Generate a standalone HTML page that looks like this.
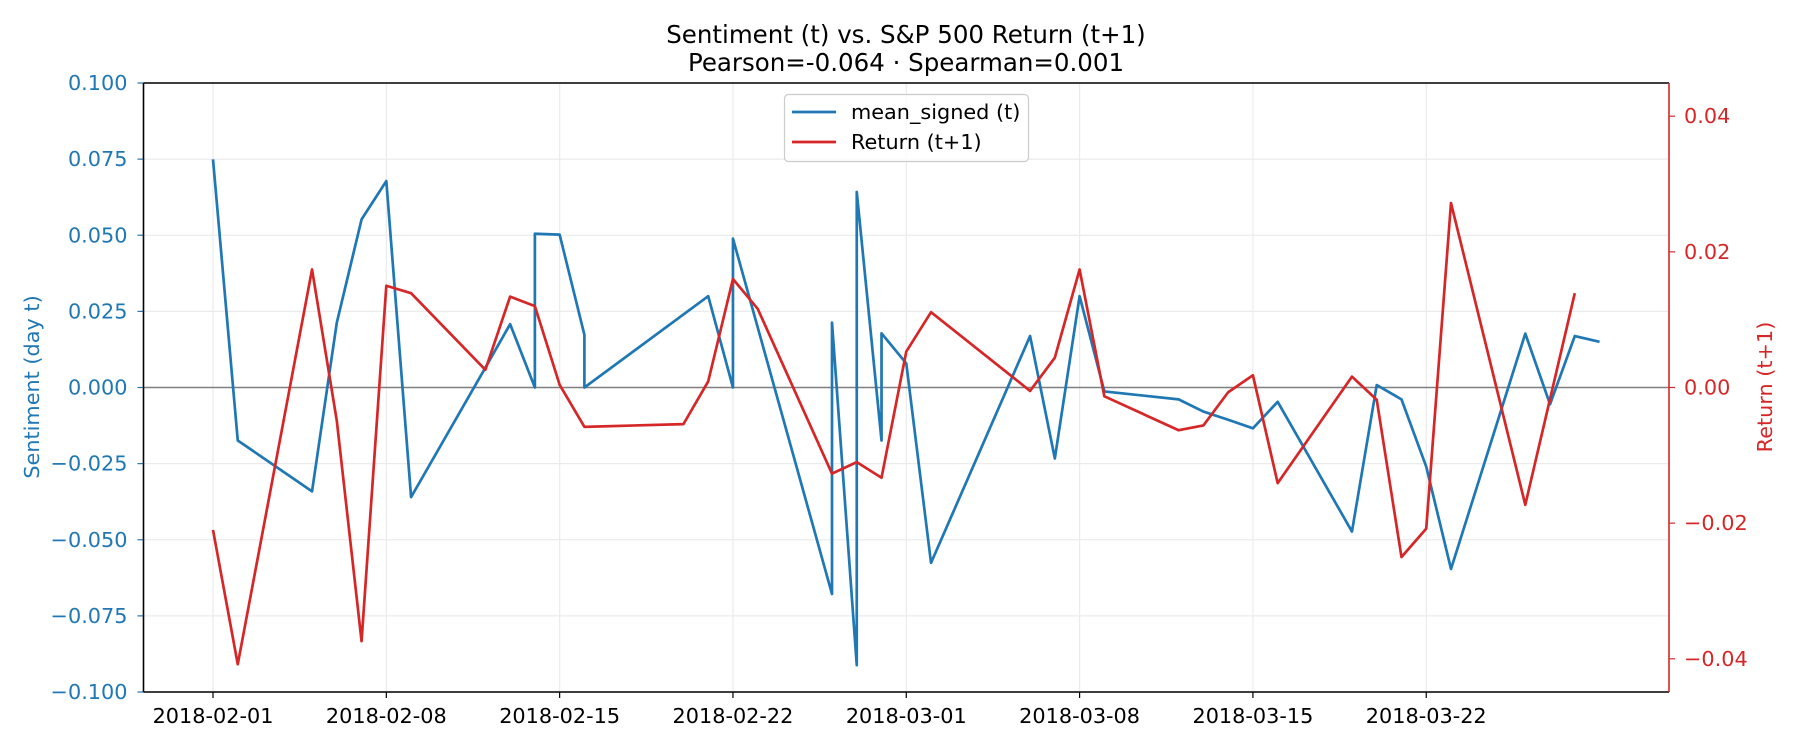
<!DOCTYPE html>
<html><head><meta charset="utf-8"><style>
body{margin:0;background:#fff;}
svg{display:block;font-family:"DejaVu Sans","Liberation Sans",sans-serif;}
</style></head><body>
<svg id="chart" width="1800" height="750" xmlns="http://www.w3.org/2000/svg">
<text x="906" y="43" font-size="24.5" text-anchor="middle">Sentiment (t) vs. S&amp;P 500 Return (t+1)</text>
<text x="906" y="71" font-size="24.5" text-anchor="middle">Pearson=-0.064 · Spearman=0.001</text>
<g id="grid"></g><g id="series"></g><g id="axes"></g>
<text transform="translate(39,387) rotate(-90)" font-size="20.8" fill="#1f77b4" text-anchor="middle">Sentiment (day t)</text>
<text transform="translate(1772,387) rotate(-90)" font-size="20.8" fill="#d62728" text-anchor="middle">Return (t+1)</text>
<g>
<rect x="784.5" y="94.5" width="244" height="67" rx="4" fill="#fff" fill-opacity="0.8" stroke="#cccccc" stroke-width="1.2"/>
<line x1="792" y1="112" x2="836" y2="112" stroke="#1f77b4" stroke-width="2.7"/>
<text x="851" y="119" font-size="20.8">mean_signed (t)</text>
<line x1="792" y1="142" x2="836" y2="142" stroke="#d62728" stroke-width="2.7"/>
<text x="851" y="149" font-size="20.8">Return (t+1)</text>
</g>
</svg>
<script>
// days since 2018-02-01
const sentDays = [0,1,4,5,6,7,8,11,12,13,13,14,15,15,20,21,21,25,25,26,26,27,27,28,29,33,34,35,36,39,40,41,42,43,46,47,48,49,50,53,54,55,56];
const sentVals = [0.0749,-0.0174,-0.0341,0.0213,0.0552,0.0678,-0.036,0.0065,0.0208,0,0.0505,0.0502,0.0173,0,0.030,0,0.0489,-0.0678,0.0213,-0.0912,0.0642,-0.0174,0.0178,0.0079,-0.0576,0.0169,-0.0233,0.030,-0.0013,-0.0039,-0.0079,-0.0106,-0.0134,-0.0047,-0.0473,0.0008,-0.0039,-0.026,-0.0596,0.0177,-0.0055,0.0169,0.015];
const retDays = [0,1,4,5,6,7,8,11,12,13,14,15,19,20,21,22,25,26,27,28,29,33,34,35,36,39,40,41,42,43,46,47,48,49,50,53,55];
const retVals = [-0.021,-0.0408,0.0174,-0.0049,-0.0374,0.015,0.0139,0.0026,0.0134,0.012,0.0004,-0.0058,-0.0054,0.0009,0.016,0.0116,-0.0127,-0.011,-0.0133,0.0053,0.0111,-0.0005,0.0044,0.0174,-0.0013,-0.0063,-0.0056,-0.0007,0.0018,-0.0141,0.0016,-0.0018,-0.025,-0.0208,0.0272,-0.0173,0.0139];
const xTickDays = [0,7,14,21,28,35,42,49];
const xTickLabels = ["2018-02-01","2018-02-08","2018-02-15","2018-02-22","2018-03-01","2018-03-08","2018-03-15","2018-03-22"];
const leftTicks = [0.1,0.075,0.05,0.025,0,-0.025,-0.05,-0.075,-0.1];
const leftTickLabels = ["0.100","0.075","0.050","0.025","0.000","\u22120.025","\u22120.050","\u22120.075","\u22120.100"];
const rightTicks = [0.04,0.02,0,-0.02,-0.04];
const rightTickLabels = ["0.04","0.02","0.00","\u22120.02","\u22120.04"];

const L=143.5,R=1669,T=83,B=692;
const x=d=>213+24.76*d;
const yL=v=>387.5-v*(B-T)/0.2;
const yR=v=>387.5-v*271.3/0.04;
const NS="http://www.w3.org/2000/svg";
function mk(tag,attrs,parent){const e=document.createElementNS(NS,tag);for(const k in attrs)e.setAttribute(k,attrs[k]);parent.appendChild(e);return e;}
const grid=document.getElementById('grid'),ser=document.getElementById('series'),ax=document.getElementById('axes');
xTickDays.forEach((d,i)=>{
  const g=mk('line',{x1:x(d),x2:x(d),y1:T,y2:B,stroke:'#ebebeb','stroke-width':1.2},grid);
  
  
  mk('line',{x1:x(d),x2:x(d),y1:B,y2:B+6,stroke:'#000','stroke-width':1.2},ax);
  const t=mk('text',{x:x(d),y:723,'font-size':20.8,'text-anchor':'middle'},ax);
  t.textContent=xTickLabels[i];
  
  
});
leftTicks.forEach((v,i)=>{
  const g=mk('line',{x1:L,x2:R,y1:yL(v),y2:yL(v),stroke:'#ebebeb','stroke-width':1.2},grid);
  
  
  mk('line',{x1:L-6,x2:L,y1:yL(v),y2:yL(v),stroke:'#1f77b4','stroke-width':1.2},ax);
  const t=mk('text',{x:L-16,y:yL(v)+7,'font-size':20.8,'text-anchor':'end',fill:'#1f77b4'},ax);
  t.textContent=leftTickLabels[i];
  
  
});
rightTicks.forEach((v,i)=>{
  mk('line',{x1:R,x2:R+6,y1:yR(v),y2:yR(v),stroke:'#d62728','stroke-width':1.2},ax);
  const t=mk('text',{x:R+15,y:yR(v)+7,'font-size':20.8,fill:'#d62728'},ax);
  t.textContent=rightTickLabels[i];
  
  
});
const zl=mk('line',{x1:L,x2:R,y1:yL(0),y2:yL(0),stroke:'#808080','stroke-width':1.6},ser);


const p1=mk('polyline',{points:sentDays.map((d,i)=>x(d)+','+yL(sentVals[i])).join(' '),fill:'none',stroke:'#1f77b4','stroke-width':2.7,'stroke-linejoin':'round'},ser);


const p2=mk('polyline',{points:retDays.map((d,i)=>x(d)+','+yR(retVals[i])).join(' '),fill:'none',stroke:'#d62728','stroke-width':2.7,'stroke-linejoin':'round'},ser);


mk('line',{x1:L,x2:R,y1:T,y2:T,stroke:'#000','stroke-width':1.6},ax);
mk('line',{x1:L,x2:R,y1:B,y2:B,stroke:'#000','stroke-width':1.6},ax);
mk('line',{x1:L,x2:L,y1:T,y2:B,stroke:'#000','stroke-width':1.6},ax);
mk('line',{x1:R,x2:R,y1:T,y2:B,stroke:'#d62728','stroke-width':1.6},ax);
</script>
</body></html>
